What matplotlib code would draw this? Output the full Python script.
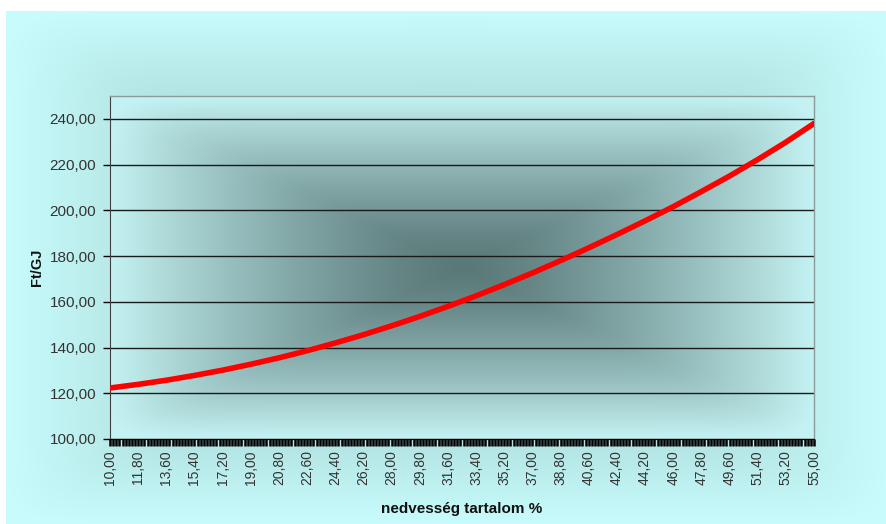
import numpy as np
import matplotlib
matplotlib.use("Agg")
import matplotlib.pyplot as plt
from matplotlib.ticker import FuncFormatter, MultipleLocator

plt.rcParams['font.family'] = ['Liberation Sans', 'DejaVu Sans']

# moisture content (%) and fuel cost (Ft/GJ)
nedvesseg = [10.0, 11.8, 13.6, 15.4, 17.2, 19.0, 20.8, 22.6, 24.4, 26.2, 28.0, 29.8, 31.6,
             33.4, 35.2, 37.0, 38.8, 40.6, 42.4, 44.2, 46.0, 47.8, 49.6, 51.4, 53.2, 55.0]
ft_per_gj = [122.3, 123.9, 125.7, 127.8, 130.1, 132.7, 135.5, 138.6, 142.0, 145.6, 149.5, 153.6, 158.0,
             162.6, 167.5, 172.6, 178.0, 183.6, 189.4, 195.4, 201.6, 208.2, 215.0, 222.2, 229.8, 238.0]
y_ticks = [100, 120, 140, 160, 180, 200, 220, 240]


def box_gradient(ny, nx, inner, outer, power=1.0, soft=14):
    # rectangular "from centre" fill: inner colour in the middle, outer colour on the border
    yy, xx = np.mgrid[0:ny, 0:nx]
    cx, cy = (nx - 1) / 2, (ny - 1) / 2
    dx = np.abs(xx - cx) / cx
    dy = np.abs(yy - cy) / cy
    t = (dx ** soft + dy ** soft) ** (1 / soft)
    t = np.clip(t, 0, 1) ** power
    inner = np.array(inner) / 255
    outer = np.array(outer) / 255
    return inner + (outer - inner) * t[..., None]


W, H = 887, 524
fig = plt.figure(figsize=(W / 100, H / 100), dpi=100)
fig.patch.set_facecolor('white')

# chart area background
bg = fig.add_axes([6 / W, 0, (W - 6) / W, (H - 11) / H])
bg.axis('off')
bg.imshow(box_gradient(H - 11, W - 6, (0x88, 0xb0, 0xb0), (0xc8, 0xfc, 0xfc)),
          aspect='auto', interpolation='bilinear')

ax = fig.add_axes([110 / W, 85 / H, 704 / W, 343 / H])
ax.set_facecolor('none')

# plot area background
ax.imshow(box_gradient(343, 704, (0x5a, 0x78, 0x78), (0xc4, 0xf2, 0xf2), power=1.3),
          extent=[10, 55, 100, 250], aspect='auto', interpolation='bilinear', zorder=0)

ax.plot(nedvesseg, ft_per_gj, color='#ff0000', linewidth=4.0, solid_capstyle='round', zorder=3)

ax.set_xlim(10, 55)
ax.set_ylim(100, 250)
ax.set_yticks(y_ticks)
ax.yaxis.grid(True, color='#1a1a1a', linewidth=1.0)
ax.set_axisbelow(True)

ax.set_xticks(nedvesseg)
ax.xaxis.set_minor_locator(MultipleLocator(0.2))
comma = FuncFormatter(lambda v, p: f"{v:.2f}".replace('.', ','))
ax.xaxis.set_major_formatter(comma)
ax.yaxis.set_major_formatter(comma)

ax.tick_params(axis='x', which='both', direction='out', length=5, width=1.8, color='black',
               pad=3, labelsize=10, labelcolor='#333333', labelrotation=90)
ax.tick_params(axis='y', direction='out', length=5, width=1.0, color='black',
               pad=5, labelsize=11, labelcolor='#333333')

for side in ('top', 'right'):
    ax.spines[side].set_color('#8c9c9c')
    ax.spines[side].set_linewidth(1.0)
ax.spines['left'].set_color('#404040')
ax.spines['bottom'].set_color('black')

ax.set_xlabel('nedvesség tartalom %', fontsize=11, fontweight='bold', color='#111111', labelpad=12)
ax.set_ylabel('Ft/GJ', fontsize=10.5, fontweight='bold', color='#111111', labelpad=4)

fig.savefig('out.png', dpi=100)
